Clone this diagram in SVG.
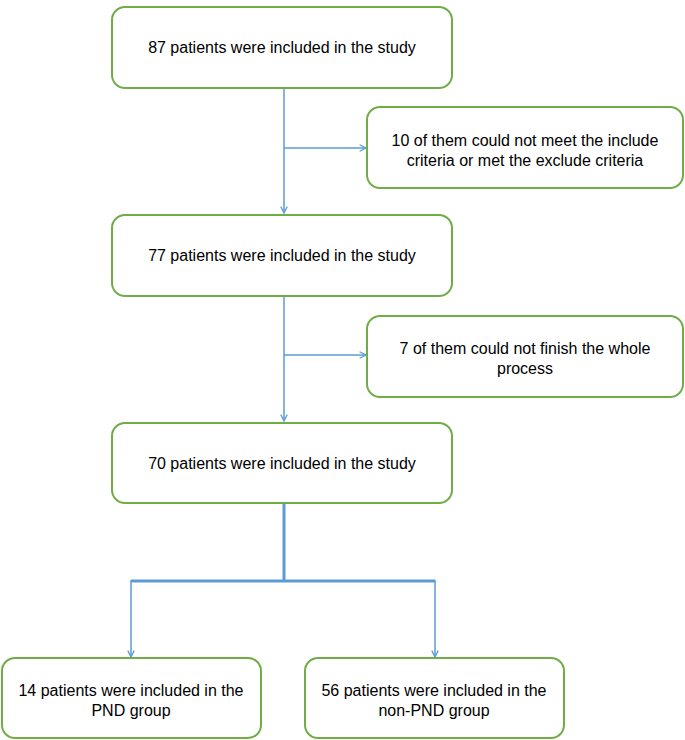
<svg xmlns="http://www.w3.org/2000/svg" width="685" height="740" viewBox="0 0 685 740">
<defs>
<style>
.box{fill:#fff;stroke:#70AD47;stroke-width:2}
.t{font-family:"Liberation Sans",Arial,sans-serif;font-size:16px;fill:#000;text-anchor:middle}
.c{fill:none;stroke:#5B9BD5;stroke-width:1.5}
.thick{fill:none;stroke:#5B9BD5;stroke-width:3}
</style>
<marker id="ah" viewBox="0 0 10 10" refX="9" refY="5" markerWidth="8" markerHeight="8" markerUnits="userSpaceOnUse" orient="auto">
<path d="M1,1 L9,5 L1,9" fill="none" stroke="#5B9BD5" stroke-width="1.6"/>
</marker>
</defs>
<rect width="685" height="740" fill="#fff"/>
<g id="connectors">
<line class="c" x1="284" y1="89" x2="284" y2="213" marker-end="url(#ah)"/>
<line class="c" x1="284" y1="148" x2="366" y2="148" marker-end="url(#ah)"/>
<line class="c" x1="284" y1="297" x2="284" y2="421" marker-end="url(#ah)"/>
<line class="c" x1="284" y1="355" x2="366" y2="355" marker-end="url(#ah)"/>
<line class="thick" x1="284" y1="504" x2="284" y2="581"/>
<polyline class="thick" points="131,581 435,581"/>
<line class="c" x1="131" y1="580" x2="131" y2="657" marker-end="url(#ah)"/>
<line class="c" x1="435" y1="580" x2="435" y2="657" marker-end="url(#ah)"/>
</g>
<g id="n1"><rect class="box" x="112" y="7" width="340" height="81" rx="13"/><text class="t" x="282" y="53">87 patients were included in the study</text></g>
<g id="n2"><rect class="box" x="367" y="107" width="316" height="81" rx="13"/><text class="t" x="525" y="146">10 of them could not meet the include</text><text class="t" x="525" y="166">criteria or met the exclude criteria</text></g>
<g id="n3"><rect class="box" x="112" y="215" width="340" height="81" rx="13"/><text class="t" x="282" y="261">77 patients were included in the study</text></g>
<g id="n4"><rect class="box" x="367" y="316" width="316" height="81" rx="13"/><text class="t" x="525" y="354">7 of them could not finish the whole</text><text class="t" x="525" y="374">process</text></g>
<g id="n5"><rect class="box" x="112" y="423" width="340" height="80" rx="13"/><text class="t" x="282" y="469">70 patients were included in the study</text></g>
<g id="n6"><rect class="box" x="2" y="658" width="259" height="80" rx="13"/><text class="t" x="131" y="696">14 patients were included in the</text><text class="t" x="131" y="716">PND group</text></g>
<g id="n7"><rect class="box" x="305" y="658" width="259" height="80" rx="13"/><text class="t" x="434" y="696">56 patients were included in the</text><text class="t" x="434" y="716">non-PND group</text></g>
</svg>
